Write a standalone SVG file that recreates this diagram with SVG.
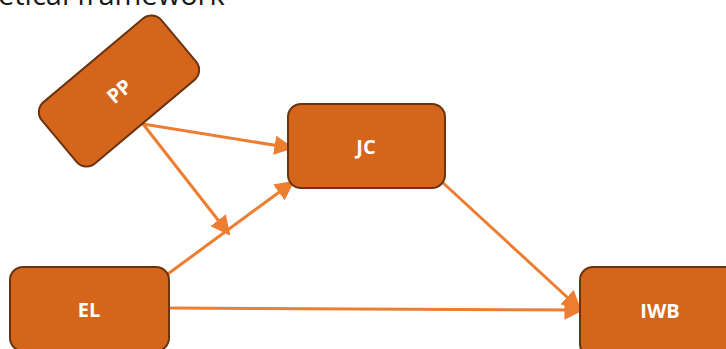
<svg xmlns="http://www.w3.org/2000/svg" width="726" height="349" viewBox="0 0 726 349">
  <style>
    .node rect { fill: #D5651A; stroke: #6B3410; stroke-width: 2; }
    .node text { fill: #FFFFFF; font-family: "Open Sans", "Liberation Sans", sans-serif; font-weight: bold; font-size: 20px; text-anchor: middle; dominant-baseline: central; }
    .edge { stroke: #ED7D31; stroke-width: 3; fill: none; marker-end: url(#arrow); }
    .title { fill: #1A1A1A; font-family: "Open Sans", "Liberation Sans", sans-serif; font-size: 29px; }
  </style>
  <defs>
    <marker id="arrow" viewBox="0 0 10 10" refX="9" refY="5" markerWidth="6.5" markerHeight="6.5" markerUnits="strokeWidth" orient="auto">
      <path d="M0,0 L10,5 L0,10 z" fill="#ED7D31"/>
    </marker>
  </defs>

  <rect width="726" height="349" fill="#FFFFFF"/>
  <text class="title" x="-2" y="5">etical framework</text>

  <g id="connectors">
    <line class="edge" x1="143" y1="124" x2="292" y2="148"/>
    <line class="edge" x1="143" y1="124" x2="229" y2="234"/>
    <line class="edge" x1="161" y1="279" x2="293" y2="182"/>
    <line class="edge" x1="441" y1="181" x2="580" y2="309"/>
    <line class="edge" x1="166" y1="308" x2="582" y2="310"/>
  </g>

  <g id="node-PP" class="node" transform="translate(119 91) rotate(-40)">
    <rect x="-78" y="-40" width="156" height="80" rx="13"/>
    <text x="0" y="0">PP</text>
  </g>

  <g id="node-JC" class="node">
    <rect x="288" y="104" width="157" height="84" rx="13"/>
    <text x="366" y="146">JC</text>
  </g>

  <g id="node-EL" class="node">
    <rect x="10" y="267" width="159" height="84" rx="13"/>
    <text x="89" y="309">EL</text>
  </g>

  <g id="node-IWB" class="node">
    <rect x="580" y="267" width="159" height="90" rx="13"/>
    <text x="660" y="310">IWB</text>
  </g>
</svg>
